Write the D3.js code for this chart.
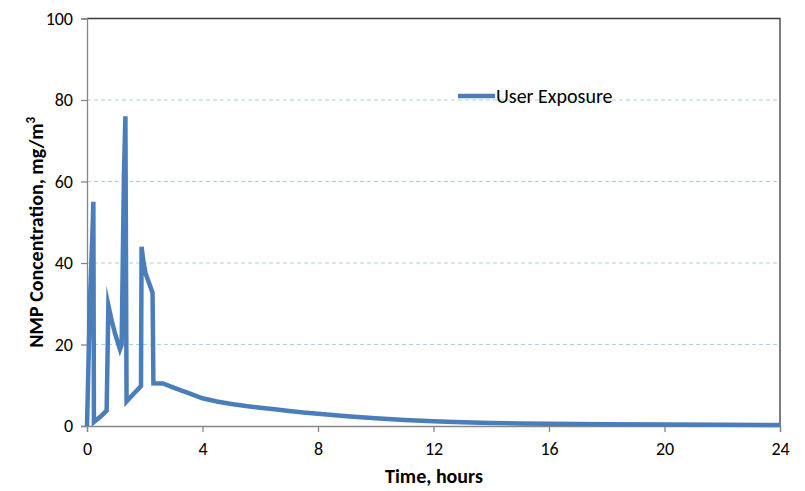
<!DOCTYPE html>
<html>
<head>
<meta charset="utf-8">
<script src="https://cdn.jsdelivr.net/npm/d3@7/dist/d3.min.js"></script>
<style>
  html, body { margin: 0; padding: 0; background: #fff; }
  svg { display: block; }
  text { font-family: Carlito, Lato, "Liberation Sans", sans-serif; fill: #000; }
</style>
</head>
<body>
<svg id="chart" width="805" height="491"></svg>
<script>
// NMP concentration for the user over a 24-hour period
const timeHours = [0, 0.1, 0.2, 0.22, 0.24, 0.5, 0.68, 0.74, 0.85, 0.97, 1.14, 1.2, 1.28, 1.33, 1.37, 1.6, 1.87, 1.89, 1.95, 2.03, 2.27, 2.3,
  2.63, 3, 3.3, 3.5, 4, 4.5, 5, 5.5, 6, 6.5, 7, 7.5, 8, 9, 10, 11, 12, 13, 14, 15, 16, 18, 20, 22, 24];
const concentration = [0, 30, 50, 55, 1, 2.5, 3.8, 29.6, 26, 22.7, 18.8, 20, 62, 76, 6, 7.8, 9.8, 44, 40.5, 37.4, 32.7, 10.5,
  10.45, 9.4, 8.6, 8.1, 6.8, 6.0, 5.4, 4.9, 4.5, 4.1, 3.7, 3.3, 3.0, 2.4, 1.9, 1.5, 1.15, 0.9, 0.75, 0.62, 0.53, 0.42, 0.34, 0.28, 0.24];
const seriesName = "User Exposure";
const xTicks = [0, 4, 8, 12, 16, 20, 24];
const yTicks = [0, 20, 40, 60, 80, 100];
const gridValues = [20, 40, 60, 80];

const svg = d3.select("#chart");
const margin = { left: 87, right: 25, top: 18.5, bottom: 65 };
const W = 805, H = 491;
const x = d3.scaleLinear().domain([0, 24]).range([margin.left, W - margin.right]);
const y = d3.scaleLinear().domain([0, 100]).range([H - margin.bottom, margin.top]);

const axisColor = "#868686";

// dashed horizontal gridlines
svg.append("g").selectAll("line").data(gridValues).join("line")
  .attr("x1", x(0)).attr("x2", x(24))
  .attr("y1", d => y(d)).attr("y2", d => y(d))
  .attr("stroke", "#a9d2da").attr("stroke-width", 1)
  .attr("stroke-dasharray", "4,3");

// top and right frame of the plot area
svg.append("path")
  .attr("d", `M${x(0)},${y(100)}H${x(24)}V${y(0)}`)
  .attr("fill", "none").attr("stroke", "#3a3a3a").attr("stroke-width", 1.3);

// axes
const xAxis = d3.axisBottom(x).tickValues(xTicks).tickSize(6).tickPadding(8).tickFormat(d3.format("d"));
const yAxis = d3.axisLeft(y).tickValues(yTicks).tickSize(6).tickPadding(8).tickFormat(d3.format("d"));

const gx = svg.append("g").attr("transform", `translate(0,${y(0)})`).call(xAxis);
const gy = svg.append("g").attr("transform", `translate(${x(0)},0)`).call(yAxis);
[gx, gy].forEach(g => {
  g.select(".domain").attr("stroke", axisColor).attr("stroke-width", 1.3);
  g.selectAll(".tick line").attr("stroke", axisColor).attr("stroke-width", 1.3);
  g.selectAll(".tick text").attr("font-size", 18).attr("fill", "#222")
    .style("font-family", "Carlito, Lato, 'Liberation Sans', sans-serif");
});
gx.selectAll(".tick text").attr("dy", "0.85em");

// series line
const line = d3.line().x((d, i) => x(timeHours[i])).y(d => y(d));
svg.append("path").datum(concentration)
  .attr("d", line)
  .attr("fill", "none")
  .attr("stroke", "#4a7ebb")
  .attr("stroke-width", 4.5)
  .attr("stroke-linejoin", "miter")
  .attr("stroke-miterlimit", 10);

// legend
const lg = svg.append("g").attr("transform", "translate(458,96)");
lg.append("line").attr("x1", 0).attr("x2", 37).attr("y1", 0).attr("y2", 0)
  .attr("stroke", "#4a7ebb").attr("stroke-width", 4.5);
lg.append("text").attr("x", 38).attr("y", 7).attr("font-size", 20).text(seriesName);

// axis titles
svg.append("text")
  .attr("x", 434).attr("y", 483)
  .attr("text-anchor", "middle").attr("font-size", 20).attr("font-weight", "bold")
  .text("Time, hours");

const yTitle = svg.append("text")
  .attr("transform", `translate(43,${(y(0) + y(100)) / 2 + 10}) rotate(-90)`)
  .attr("text-anchor", "middle").attr("font-size", 20).attr("font-weight", "bold");
yTitle.append("tspan").text("NMP Concentration, mg/m");
yTitle.append("tspan").attr("font-size", 13).attr("dy", "-0.6em").text("3");
</script>
</body>
</html>
